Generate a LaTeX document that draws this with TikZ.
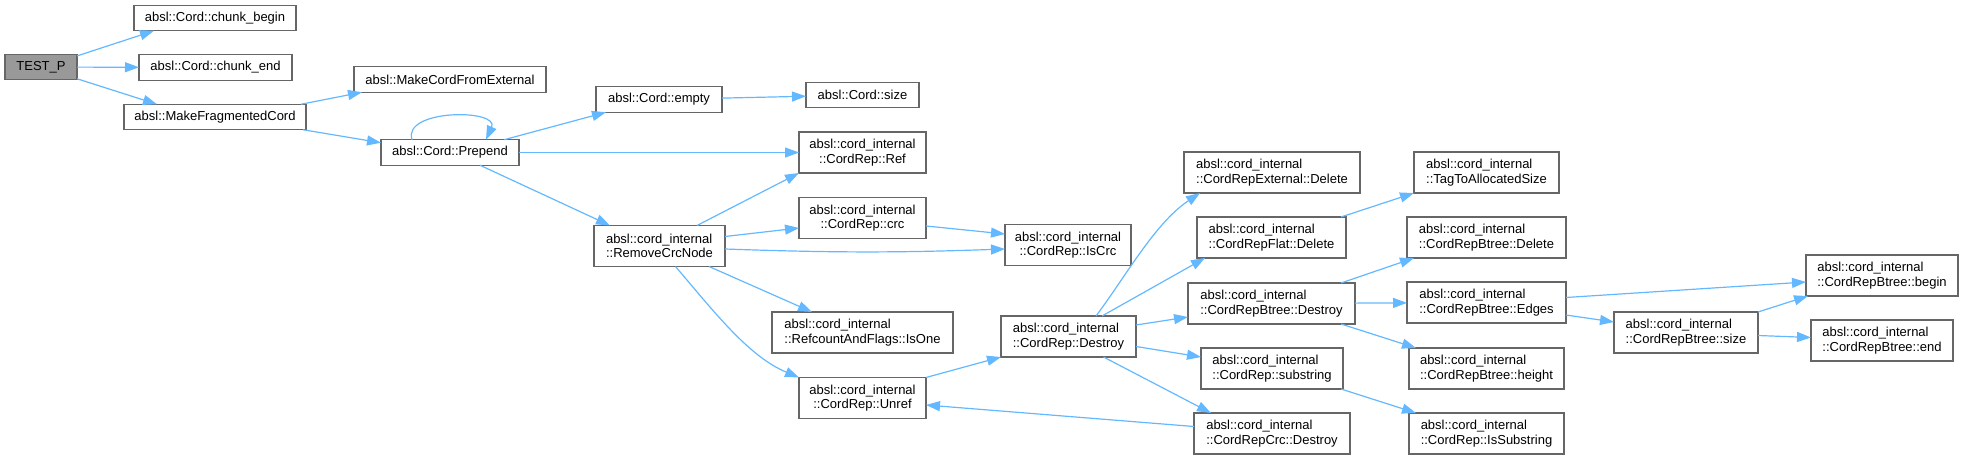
\documentclass[tikz,border=0pt]{standalone}
\usepackage{fontspec}
\setmainfont{Liberation Sans}
\usepackage{tikz}
\usetikzlibrary{arrows.meta}
\usepackage{xcolor}
\definecolor{callblue}{HTML}{63B8FF}
\definecolor{boxgray}{HTML}{666666}
\definecolor{rootgray}{HTML}{999999}

\begin{document}
\begin{tikzpicture}[x=1pt,y=-1pt,
  every node/.style={draw=boxgray, line width=1.4pt, outer sep=0pt, inner sep=2pt,
    font=\fontsize{13}{14.4}\selectfont, align=left},
  one/.style={minimum height=25.5pt},
  two/.style={minimum height=41pt},
  call/.style={draw=callblue, line width=1.2pt, -{Triangle[length=14pt,width=10pt]}}]

  \useasboundingbox (0,0) rectangle (1963,460);

  \node(testp)[one,fill=rootgray,minimum width=72pt] at (41,67) {TEST\_P};
  \node(chunkbegin)[one,minimum width=162pt] at (215,18) {absl::Cord::chunk\_begin};
  \node(chunkend)[one,minimum width=153pt] at (215.5,67.5) {absl::Cord::chunk\_end};
  \node(makefrag)[one,minimum width=182pt] at (215,117) {absl::MakeFragmentedCord};

  \node(makeext)[one,minimum width=192pt] at (450,79.5) {absl::MakeCordFromExternal};
  \node(prepend)[one,minimum width=138pt] at (450,152.5) {absl::Cord::Prepend};

  \node(empty)[one,minimum width=126pt] at (659,99.5) {absl::Cord::empty};
  \node(removecrc)[two,minimum width=131pt] at (659.5,246) {absl::cord\_internal\\::RemoveCrcNode};

  \node(size)[one,minimum width=113pt] at (862.5,95) {absl::Cord::size};
  \node(ref)[two,align=center,minimum width=127pt] at (862.5,152.5) {absl::cord\_internal\\::CordRep::Ref};
  \node(crc)[two,align=center,minimum width=127pt] at (862.5,218) {absl::cord\_internal\\::CordRep::crc};
  \node(isone)[two,minimum width=181pt] at (862.5,332.5) {absl::cord\_internal\\::RefcountAndFlags::IsOne};
  \node(unref)[two,align=center,minimum width=127pt] at (862.5,398) {absl::cord\_internal\\::CordRep::Unref};

  \node(iscrc)[two,align=center,minimum width=126pt] at (1068,245) {absl::cord\_internal\\::CordRep::IsCrc};
  \node(destroy)[two,minimum width=135pt] at (1068.5,336.5) {absl::cord\_internal\\::CordRep::Destroy};

  \node(extdelete)[two,minimum width=176pt] at (1272,172.5) {absl::cord\_internal\\::CordRepExternal::Delete};
  \node(flatdelete)[two,minimum width=149pt] at (1271.5,237.5) {absl::cord\_internal\\::CordRepFlat::Delete};
  \node(btreedestroy)[two,minimum width=167pt] at (1271.5,303.5) {absl::cord\_internal\\::CordRepBtree::Destroy};
  \node(substring)[two,minimum width=142pt] at (1272,368.5) {absl::cord\_internal\\::CordRep::substring};
  \node(crcdestroy)[two,minimum width=156pt] at (1272,433.5) {absl::cord\_internal\\::CordRepCrc::Destroy};

  \node(tagsize)[two,minimum width=145pt] at (1486.5,172.5) {absl::cord\_internal\\::TagToAllocatedSize};
  \node(btreedelete)[two,minimum width=159pt] at (1486.5,237.5) {absl::cord\_internal\\::CordRepBtree::Delete};
  \node(edges)[two,minimum width=159pt] at (1486.5,302.5) {absl::cord\_internal\\::CordRepBtree::Edges};
  \node(height)[two,minimum width=155pt] at (1486.5,368.5) {absl::cord\_internal\\::CordRepBtree::height};
  \node(issubstring)[two,minimum width=155pt] at (1486.5,433.5) {absl::cord\_internal\\::CordRep::IsSubstring};

  \node(btreesize)[two,minimum width=144pt] at (1686,332.5) {absl::cord\_internal\\::CordRepBtree::size};
  \node(btreebegin)[two,minimum width=152pt] at (1882,275.5) {absl::cord\_internal\\::CordRepBtree::begin};
  \node(btreeend)[two,minimum width=142pt] at (1882,340.5) {absl::cord\_internal\\::CordRepBtree::end};

  \draw[call] ([yshift=-1.7pt]testp.north east) to ([xshift=20pt]chunkbegin.south west);
  \draw[call] (testp) to (chunkend);
  \draw[call] ([yshift=1pt]testp.south east) to ([xshift=33pt]makefrag.north west);
  \draw[call] ([xshift=-5pt]makefrag.north east) to ([xshift=8pt]makeext.south west);
  \draw[call] ([xshift=-3pt]makefrag.south east) to ([yshift=-3pt]prepend.north west);

  % recursion
  \draw[call] ([xshift=-38pt]prepend.north) .. controls +(-10,-31) and +(14,-31) .. ([xshift=36pt]prepend.north);
  \draw[call] ([xshift=-15pt]prepend.north east) to ([xshift=10pt]empty.south west);
  \draw[call] (prepend) to (ref);
  \draw[call] ([xshift=-39pt]prepend.south east) to ([xshift=16pt]removecrc.north west);
  \draw[call] (empty) to (size);

  \draw[call] ([xshift=-28pt]removecrc.north east) to (ref.south west);
  \draw[call] ([yshift=-11pt]removecrc.north east) to ([yshift=-10pt]crc.west);
  \draw[call] ([yshift=-3pt]removecrc.east) to[bend right=2] ([yshift=-4pt]iscrc.west);
  \draw[call] ([xshift=-16pt]removecrc.south east) to ([xshift=40pt]isone.north west);
  \draw[call] ([xshift=16pt]removecrc.south) .. controls +(40,47) and +(-50,-21) .. (unref.north west);
  \draw[call] ([yshift=-8pt]crc.east) to ([yshift=11pt]iscrc.west);

  \draw[call] (unref.north east) to (destroy.south west);
  \draw[call] ([yshift=7pt]crcdestroy.west) to ([yshift=-7pt]unref.east);

  \draw[call] ([xshift=27.5pt]destroy.north) .. controls +(30,-40) and +(-45,30) .. ([xshift=16pt]extdelete.south west);
  \draw[call] ([xshift=33.5pt]destroy.north) to ([xshift=8pt]flatdelete.south west);
  \draw[call] ([yshift=11.5pt]destroy.east) to ([yshift=-13.5pt]btreedestroy.west);
  \draw[call] ([yshift=-10pt]destroy.east) to ([yshift=11.5pt]substring.west);
  \draw[call] ([xshift=35pt]destroy.south) to ([xshift=17pt]crcdestroy.north west);

  \draw[call] ([xshift=-5pt]flatdelete.north east) to (tagsize.south west);
  \draw[call] ([xshift=-14pt]btreedestroy.north east) to ([xshift=7pt]btreedelete.south west);
  \draw[call] (btreedestroy) to (edges);
  \draw[call] ([xshift=-14pt]btreedestroy.south east) to ([xshift=7pt]height.north west);
  \draw[call] ([xshift=-2pt]substring.south east) to ([xshift=7pt]issubstring.north west);

  \draw[call] ([yshift=5pt]edges.east) to ([yshift=-6.5pt]btreebegin.west);
  \draw[call] ([yshift=-12.5pt]edges.east) to ([yshift=10.5pt]btreesize.west);
  \draw[call] (btreesize.north east) to ([xshift=2pt]btreebegin.south west);
  \draw[call] ([yshift=-3pt]btreesize.east) to ([yshift=3pt]btreeend.west);
\end{tikzpicture}
\end{document}
